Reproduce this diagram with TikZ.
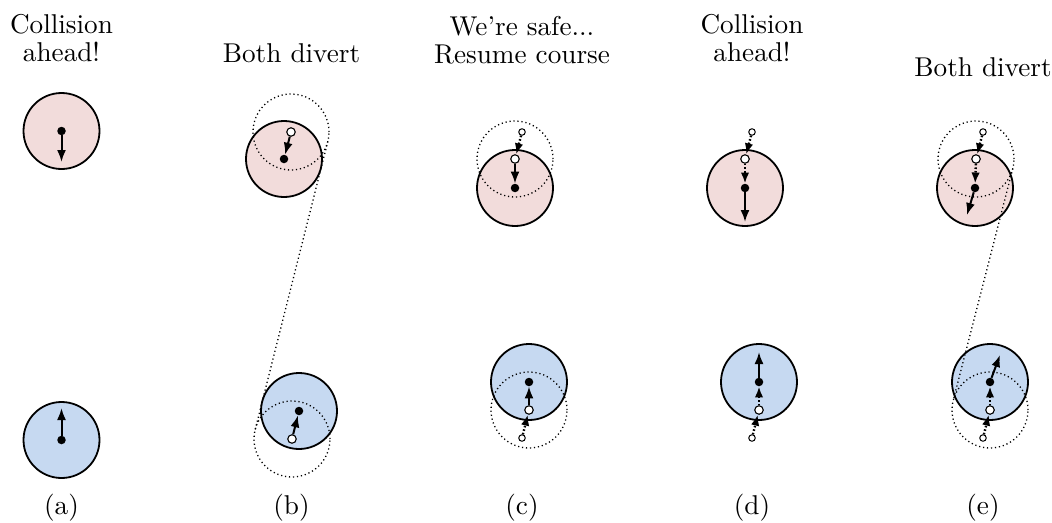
\documentclass[tikz,border=0pt]{standalone}
\usetikzlibrary{arrows.meta,calc}
\definecolor{redfill}{RGB}{242,220,219}
\definecolor{bluefill}{RGB}{198,217,241}
\begin{document}
\begin{tikzpicture}[x=1pt,y=-1pt,
 ball/.style={circle,draw=black,line width=1.8pt,minimum size=76pt,inner sep=0pt,outer sep=0pt},
 redball/.style={ball,fill=redfill},
 blueball/.style={ball,fill=bluefill},
 ghost/.style={circle,draw=black,line width=1.3pt,dash pattern=on 1.2pt off 2.8pt,minimum size=76pt,inner sep=0pt,outer sep=0pt},
 ghostline/.style={draw=black,line width=1.3pt,dash pattern=on 1.2pt off 2.8pt},
 bdot/.style={circle,fill=black,minimum size=8.5pt,inner sep=0pt},
 wdot/.style={circle,draw=black,fill=white,line width=1.1pt,minimum size=8.5pt,inner sep=0pt},
 sdot/.style={circle,draw=black,fill=white,line width=1pt,minimum size=6.5pt,inner sep=0pt},
 vel/.style={line width=2pt,-{Latex[length=12pt,width=9pt]}},
 trail/.style={line width=2.4pt,dash pattern=on 1.6pt off 2pt,-{Latex[length=11pt,width=8.5pt]}},
 title/.style={align=center,scale=2.72,font=\fontsize{10}{10.2}\selectfont,inner sep=0pt},
]
\useasboundingbox (0,0) rectangle (1052,522);

% ---------- titles and captions ----------
\node[title] (ta) at (61.5,38) {Collision\\ahead!};
\node[title] (tb) at (291.5,53) {Both divert};
\node[title] (tc) at (522,40) {We're safe...\\Resume course};
\node[title] (td) at (752,38) {Collision\\ahead!};
\node[title] (te) at (983,67) {Both divert};
\node[title] (ca) at (61.5,508) {(a)};
\node[title] (cb) at (291.5,508) {(b)};
\node[title] (cc) at (522,508) {(c)};
\node[title] (cd) at (752,508) {(d)};
\node[title] (ce) at (983,508) {(e)};

% ---------- (a) ----------
\node[redball] (ra) at (61.5,131) {};
\node[blueball] (ba) at (61.5,440) {};
\node[bdot] (rak) at (61.5,131) {};
\node[bdot] (bak) at (61.5,440) {};
\coordinate (rav) at (61.5,162);
\coordinate (bav) at (61.5,408);
\draw[vel] (rak) -- (rav);
\draw[vel] (bak) -- (bav);

% ---------- (b) ----------
\node[redball] (rb) at (284,159) {};
\node[blueball] (bb) at (299,411) {};
\node[ghost] (grb) at (291,132) {};
\node[ghost] (gbb) at (292,439) {};
\draw[ghostline] ($(grb)+(14.1:38)$) -- ($(gbb)+(194.1:38)$);
\node[wdot] (rbw) at (291,132) {};
\node[bdot] (rbk) at (284,159) {};
\node[wdot] (bbw) at (292,439) {};
\node[bdot] (bbk) at (299,411) {};
\draw[vel] (rbw) -- (rbk);
\draw[vel] (bbw) -- (bbk);

% ---------- (c) ----------
\node[redball] (rc) at (515,188) {};
\node[blueball] (bc) at (529,382) {};
\node[ghost] (grc) at (515,159) {};
\node[ghost] (gbc) at (529,410) {};
\node[sdot] (rcs) at (522,132) {};
\node[wdot] (rcw) at (515,159) {};
\node[bdot] (rck) at (515,188) {};
\node[sdot] (bcs) at (522,438) {};
\node[wdot] (bcw) at (529,410) {};
\node[bdot] (bck) at (529,382) {};
\draw[trail] (rcs) -- (rcw);
\draw[vel] (rcw) -- (rck);
\draw[trail] (bcs) -- (bcw);
\draw[vel] (bcw) -- (bck);

% ---------- (d) ----------
\node[redball] (rd) at (745,188) {};
\node[blueball] (bd) at (759,382) {};
\node[sdot] (rds) at (752,132) {};
\node[wdot] (rdw) at (745,159) {};
\node[bdot] (rdk) at (745,188) {};
\node[sdot] (bds) at (752,438) {};
\node[wdot] (bdw) at (759,410) {};
\node[bdot] (bdk) at (759,382) {};
\coordinate (rdv) at (745,222);
\coordinate (bdv) at (759,352);
\draw[trail] (rds) -- (rdw);
\draw[trail] (rdw) -- (rdk);
\draw[vel] (rdk) -- (rdv);
\draw[trail] (bds) -- (bdw);
\draw[trail] (bdw) -- (bdk);
\draw[vel] (bdk) -- (bdv);

% ---------- (e) ----------
\node[redball] (re) at (975,188) {};
\node[blueball] (be) at (990,382) {};
\node[ghost] (gre) at (976,159) {};
\node[ghost] (gbe) at (990,410) {};
\draw[ghostline] ($(gre)+(14.41:38)$) -- ($(gbe)+(194.41:38)$);
\node[sdot] (res) at (983,132) {};
\node[wdot] (rew) at (976,159) {};
\node[bdot] (rek) at (975,188) {};
\node[sdot] (bes) at (983,438) {};
\node[wdot] (bew) at (990,410) {};
\node[bdot] (bek) at (990,382) {};
\coordinate (rev) at (967,215);
\coordinate (bev) at (1000,355);
\draw[trail] (res) -- (rew);
\draw[trail] (rew) -- (rek);
\draw[vel] (rek) -- (rev);
\draw[trail] (bes) -- (bew);
\draw[trail] (bew) -- (bek);
\draw[vel] (bek) -- (bev);
\end{tikzpicture}
\end{document}
